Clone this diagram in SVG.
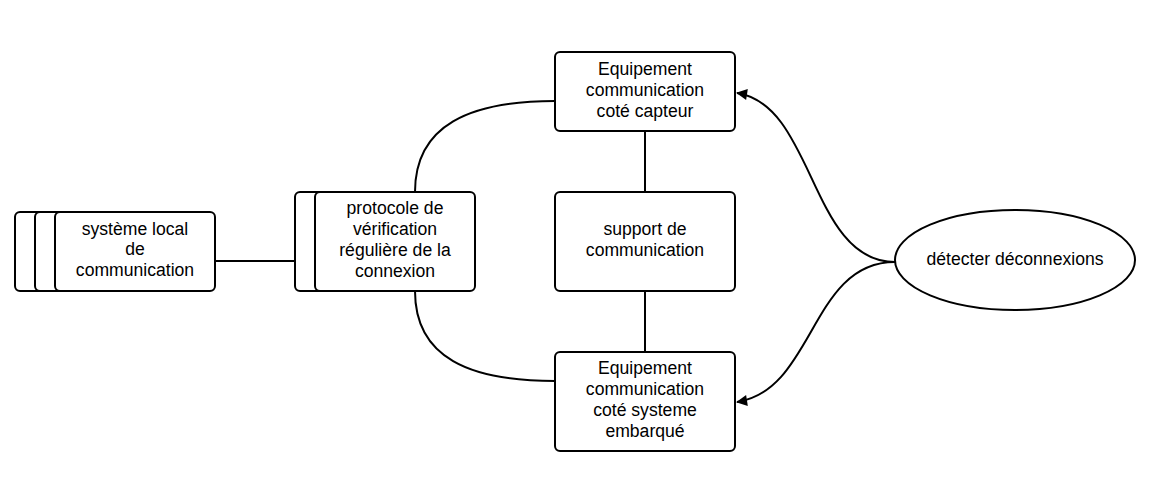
<svg xmlns="http://www.w3.org/2000/svg" width="1152" height="497" viewBox="0 0 1152 497">
<style>
.b{fill:#fff;stroke:#000;stroke-width:2}
.c{fill:none;stroke:#000;stroke-width:2}
text{font-family:"Liberation Sans",Arial,sans-serif;font-size:17.6px;fill:#000;text-anchor:middle}
</style>
<defs>
<marker id="ah" viewBox="0 0 12 12" refX="11" refY="6" markerWidth="12" markerHeight="11" markerUnits="userSpaceOnUse" orient="auto">
<path d="M0,0 L12,6 L0,12 z" fill="#000"/>
</marker>
</defs>
<g id="connectors">
<line class="c" x1="215" y1="261" x2="295" y2="261"/>
<line class="c" x1="645" y1="131" x2="645" y2="192"/>
<line class="c" x1="645" y1="291" x2="645" y2="352"/>
<path class="c" d="M415,192 C415,125 470,101 555,101"/>
<path class="c" d="M415,291 C415,358 470,381 555,381"/>
<path class="c" d="M895,262 C810,262 815,105 737,93" marker-end="url(#ah)"/>
<path class="c" d="M895,262 C810,262 815,390 737,402" marker-end="url(#ah)"/>
</g>
<g id="systeme-local">
<rect class="b" x="15" y="212" width="160" height="79" rx="5"/>
<rect class="b" x="35" y="212" width="160" height="79" rx="5"/>
<rect class="b" x="55" y="212" width="160" height="79" rx="5"/>
<text x="135" y="235">système local</text>
<text x="135" y="255">de</text>
<text x="135" y="276">communication</text>
</g>
<g id="protocole">
<rect class="b" x="295" y="192" width="160" height="99" rx="5"/>
<rect class="b" x="315" y="192" width="160" height="99" rx="5"/>
<text x="395" y="214">protocole de</text>
<text x="395" y="235">vérification</text>
<text x="395" y="256">régulière de la</text>
<text x="395" y="277">connexion</text>
</g>
<g id="equip-capteur">
<rect class="b" x="555" y="52" width="180" height="79" rx="5"/>
<text x="645" y="75">Equipement</text>
<text x="645" y="96">communication</text>
<text x="645" y="117">coté capteur</text>
</g>
<g id="support">
<rect class="b" x="555" y="192" width="180" height="99" rx="5"/>
<text x="645" y="235">support de</text>
<text x="645" y="256">communication</text>
</g>
<g id="equip-systeme">
<rect class="b" x="555" y="352" width="180" height="99" rx="5"/>
<text x="645" y="374">Equipement</text>
<text x="645" y="395">communication</text>
<text x="645" y="416">coté systeme</text>
<text x="645" y="437">embarqué</text>
</g>
<g id="detecter">
<ellipse class="b" cx="1015" cy="260" rx="120" ry="50"/>
<text x="1015" y="265">détecter déconnexions</text>
</g>
</svg>
